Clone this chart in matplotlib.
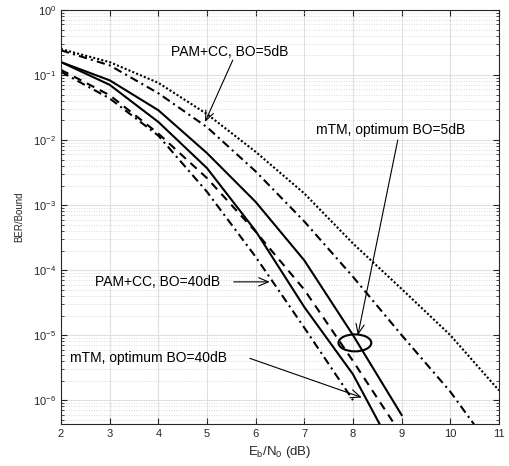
import numpy as np
import matplotlib
matplotlib.use('Agg')
import matplotlib.pyplot as plt
from matplotlib.patches import Ellipse
from matplotlib.ticker import LogLocator, NullFormatter

plt.rcParams['font.family'] = ['Liberation Sans', 'DejaVu Sans']
plt.rcParams['mathtext.fontset'] = 'custom'
plt.rcParams['mathtext.rm'] = 'Liberation Sans'
plt.rcParams['mathtext.it'] = 'Liberation Sans'

# Eb/N0 grid (dB)
ebn0_long = [2, 3, 4, 5, 6, 7, 8, 9, 10, 11]
ebn0_mid = [2, 3, 4, 5, 6, 7, 8, 9]
ebn0_short = [2, 3, 4, 5, 6, 7, 8]

# curves
bound_dotted = [0.251, 0.158, 0.0759, 0.0251, 6.6e-3, 1.51e-3, 2.57e-4, 5.13e-5, 1.0e-5, 1.41e-6]
pam_bo5 = [0.24, 0.141, 0.0525, 0.0158, 3.3e-3, 5.6e-4, 7.9e-5, 1.0e-5, 1.35e-6, 1.26e-7]
mtm_bo5 = [0.158, 0.083, 0.0288, 6.3e-3, 1.12e-3, 1.41e-4, 1.0e-5, 5.9e-7]
mtm_bo40 = [0.158, 0.0708, 0.019, 3.7e-3, 4.0e-4, 2.7e-5, 2.5e-6, 1.0e-7]
bound_dashed = [0.12, 0.049, 0.0126, 2.6e-3, 3.9e-4, 5.0e-5, 4.0e-6, 2.9e-7]
pam_bo40 = [0.112, 0.0437, 0.0117, 1.6e-3, 1.6e-4, 1.3e-5, 1.0e-6]

fig = plt.figure(figsize=(5.1, 4.66), dpi=100)
ax = fig.add_axes([0.1196, 0.0901, 0.8588, 0.8884])

lw = 1.5
ax.semilogy(ebn0_long, bound_dotted, color='k', lw=lw, linestyle=(0, (1, 1)))
ax.semilogy(ebn0_long, pam_bo5, color='k', lw=lw, linestyle=(0, (4, 2, 1, 2)))
ax.semilogy(ebn0_mid, mtm_bo5, color='k', lw=lw, linestyle='-')
ax.semilogy(ebn0_mid, mtm_bo40, color='k', lw=lw, linestyle='-')
ax.semilogy(ebn0_mid, bound_dashed, color='k', lw=lw, linestyle=(0, (4, 3)))
ax.semilogy(ebn0_short, pam_bo40, color='k', lw=lw, linestyle=(0, (4, 2, 1, 2)))

ax.set_xlim(2, 11)
ax.set_ylim(4.3e-7, 1)
ax.set_xticks(range(2, 12))
ax.yaxis.set_minor_locator(LogLocator(base=10, subs=np.arange(2, 10), numticks=20))
ax.yaxis.set_minor_formatter(NullFormatter())

ax.grid(True, which='major', color='#e0e0e0', lw=0.8, linestyle='-')
ax.grid(True, which='minor', axis='y', color='#cfcfcf', lw=0.6, linestyle=(0, (1, 2)))
ax.set_axisbelow(True)

ax.tick_params(which='both', direction='in', top=True, right=True, colors='#262626', labelsize=8)
ax.tick_params(which='major', length=4)
ax.tick_params(which='minor', length=2)
for s in ax.spines.values():
    s.set_color('#262626')
    s.set_linewidth(0.8)

ax.set_xlabel(r'E$_\mathregular{b}$/N$_\mathregular{0}$ (dB)', fontsize=9.5, color='#262626', labelpad=4)
ax.set_ylabel('BER/Bound', fontsize=7, color='#262626', labelpad=6)

# annotations
fs = 10
ax.text(0.386, 0.899, 'PAM+CC, BO=5dB', transform=ax.transAxes, ha='center', va='center', fontsize=fs)
ax.text(0.753, 0.710, 'mTM, optimum BO=5dB', transform=ax.transAxes, ha='center', va='center', fontsize=fs)
ax.text(0.221, 0.343, 'PAM+CC, BO=40dB', transform=ax.transAxes, ha='center', va='center', fontsize=fs)
ax.text(0.199, 0.159, 'mTM, optimum BO=40dB', transform=ax.transAxes, ha='center', va='center', fontsize=fs)

arrow = dict(arrowstyle='->,head_length=0.7,head_width=0.3', color='k', lw=0.8, shrinkA=0, shrinkB=0)
ax.annotate('', xy=(4.96, 0.019), xytext=(5.53, 0.17), arrowprops=arrow)
ax.annotate('', xy=(8.10, 1.0e-5), xytext=(8.92, 0.01), arrowprops=arrow)
ax.annotate('', xy=(6.29, 6.6e-5), xytext=(5.55, 6.6e-5), arrowprops=arrow)
ax.annotate('', xy=(8.18, 1.1e-6), xytext=(5.88, 4.4e-6), arrowprops=arrow)

ax.add_patch(Ellipse((0.671, 0.196), 0.075, 0.041, transform=ax.transAxes,
                     fill=False, edgecolor='k', lw=1.5))

fig.savefig('out.png', dpi=100)
